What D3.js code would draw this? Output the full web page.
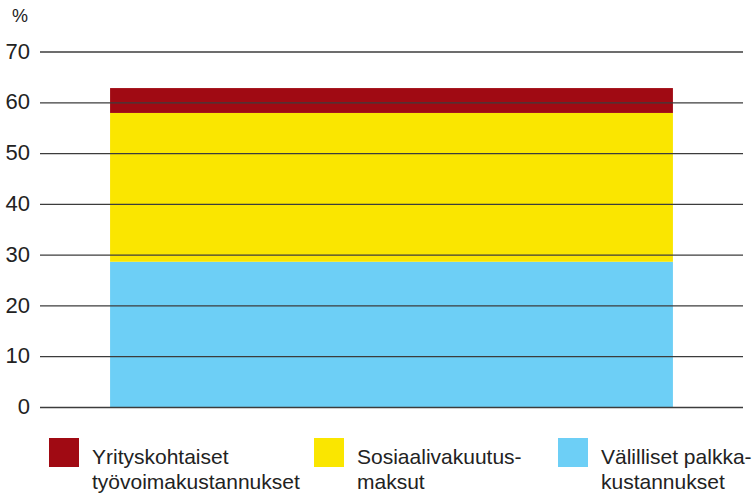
<!DOCTYPE html>
<html>
<head>
<meta charset="utf-8">
<script src='https://d3js.org/d3.v7.min.js'></script>
<style>
 body {margin: 0; background: #fff;}
 text {font-family: 'Liberation Sans', Arial, sans-serif; fill: #222;}
</style>
</head>
<body onload='init()'>
<svg width=755 height=495>
</svg>
<script>

// one stacked bar, three parts (% of wages)
var categories = ['Työvoimakustannukset'];
var seriesNames = ['Välilliset palkkakustannukset', 'Sosiaalivakuutusmaksut', 'Yrityskohtaiset työvoimakustannukset'];
var valilliset = [28.6];
var sosiaali = [29.3];
var yrityskoht = [4.9];
var yTicks = [0, 10, 20, 30, 40, 50, 60, 70];
var colors = ['#6dcff6', '#fae600', '#a00a13'];

// legend, left to right, with the line breaks of the picture
var legendNames = ['Yrityskohtaiset', 'Sosiaalivakuutus-', 'Välilliset palkka-'];
var legendLines2 = ['työvoimakustannukset', 'maksut', 'kustannukset'];
var legendColors = ['#a00a13', '#fae600', '#6dcff6'];

function init() {

 var svg = d3.select('svg');
 var left = 40, right = 743;

 var x = d3.scaleBand().domain(categories).range([left, right])
   .paddingInner(0).paddingOuter(0.1245);
 var y = d3.scaleLinear().domain([0, 70]).range([407, 51.5]);

 var table = categories.map(function (c, i) {
   return {cat: c, a: valilliset[i], b: sosiaali[i], c: yrityskoht[i]};
 });
 var stack = d3.stack().keys(['a', 'b', 'c'])(table);

 svg.append('g')
  .selectAll('g')
  .data(stack)
  .enter()
   .append('g')
    .style('fill', function (d, i) { return colors[i]; })
   .selectAll('rect')
   .data(function (d) { return d; })
   .enter()
    .append('rect')
     .attr('x', function (d) { return x(d.data.cat); })
     .attr('width', x.bandwidth())
     .attr('y', function (d) { return y(d[1]); })
     .attr('height', function (d) { return y(d[0]) - y(d[1]); });

 // gridlines + labels, drawn over the bar
 var axis = svg.append('g')
  .attr('transform', 'translate(' + left + ',0)')
  .call(d3.axisLeft(y).tickValues(yTicks).tickSize(-(right - left)).tickPadding(10));
 axis.select('.domain').remove();
 axis.selectAll('.tick line').attr('stroke', '#3c3c3c').attr('stroke-width', 1.3);
 axis.selectAll('.tick text')
  .attr('x', -10)
  .attr('dy', '0.3em')
  .style('font-size', '22px')
  .style('font-family', "'Liberation Sans', Arial, sans-serif")
  .style('fill', '#222');

 svg.append('text')
  .attr('x', 12).attr('y', 21.5)
  .style('font-size', '18px')
  .text('%');

 // legend
 var lx = [49, 314, 558];
 var lg = svg.append('g').selectAll('g')
  .data(legendNames)
  .enter()
   .append('g')
    .attr('transform', function (d, i) { return 'translate(' + lx[i] + ',438)'; });
 lg.append('rect')
  .attr('width', 30).attr('height', 29)
  .style('fill', function (d, i) { return legendColors[i]; });
 lg.append('text')
  .attr('x', 43).attr('y', 26)
  .style('font-size', '21px')
  .text(function (d) { return d; });
 lg.append('text')
  .attr('x', 43).attr('y', 50.5)
  .style('font-size', '21px')
  .text(function (d, i) { return legendLines2[i]; });
}

</script>
</body>
</html>
